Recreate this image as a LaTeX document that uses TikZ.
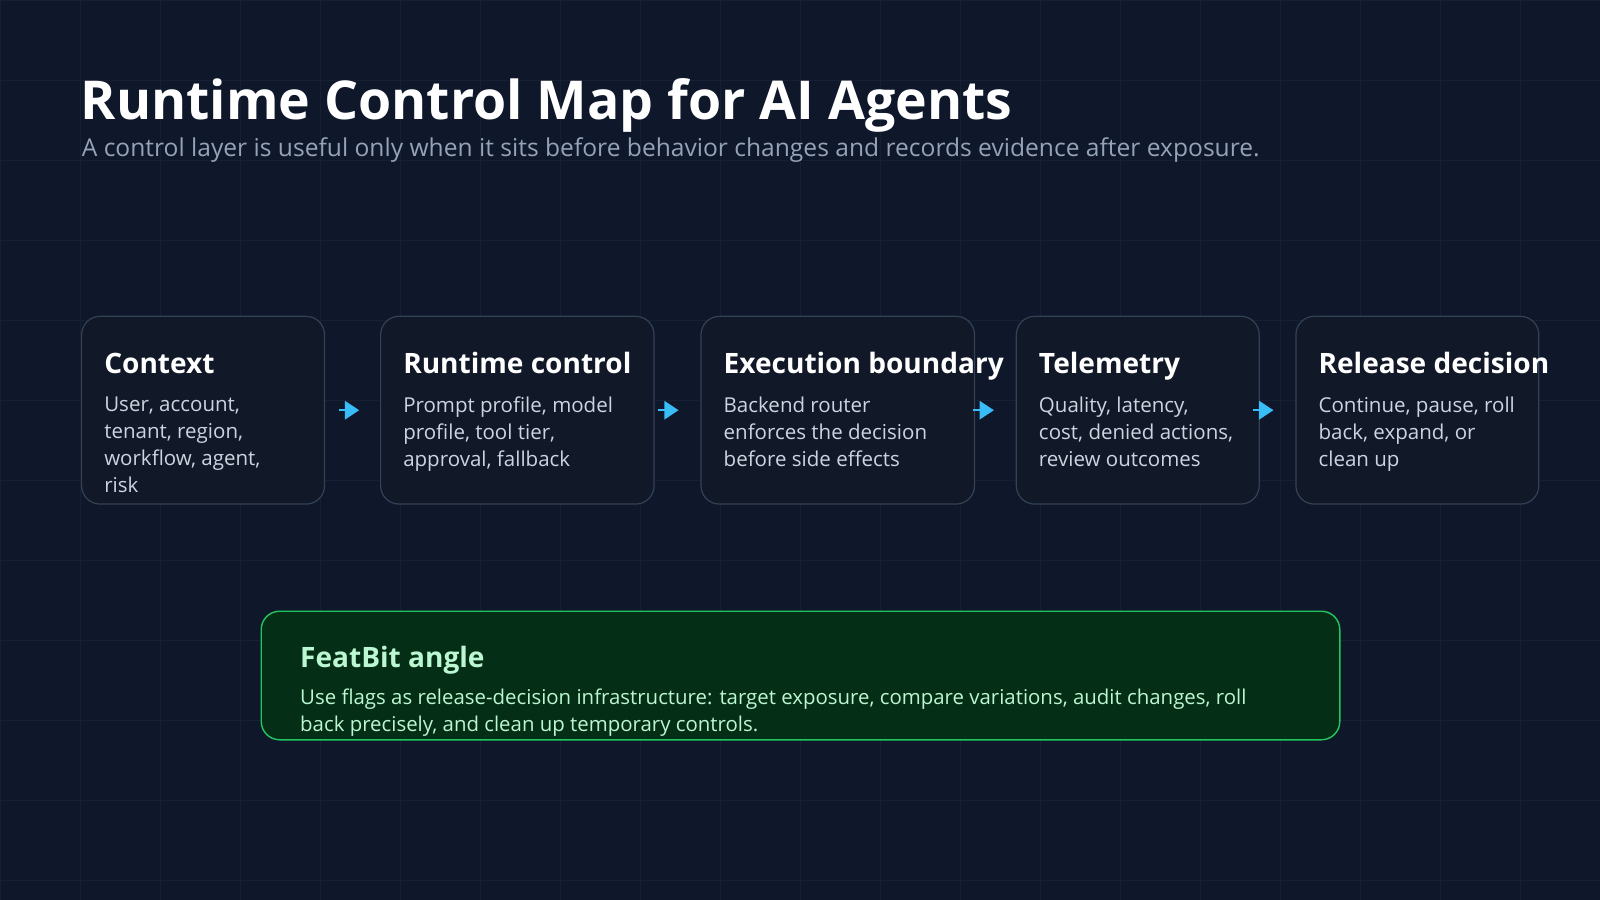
\documentclass[tikz,border=0pt]{standalone}
\usepackage{fontspec}
\setmainfont{Open Sans}
\usetikzlibrary{arrows.meta}
\definecolor{bg}{HTML}{0F172A}
\definecolor{gridc}{HTML}{172033}
\definecolor{boxf}{HTML}{111827}
\definecolor{boxd}{HTML}{334155}
\definecolor{sub}{HTML}{94A3B8}
\definecolor{body}{HTML}{CBD5E1}
\definecolor{arr}{HTML}{38BDF8}
\definecolor{gf}{HTML}{052E16}
\definecolor{gd}{HTML}{22C55E}
\definecolor{gt}{HTML}{BBF7D0}
\begin{document}
\begin{tikzpicture}[x=1pt,y=-1pt,
 card/.style={draw=boxd,line width=1.2pt,fill=boxf,rounded corners=18pt},
 ctitle/.style={anchor=base west,text=white,font=\fontsize{27.5}{30}\selectfont\bfseries,inner sep=0},
 cbody/.style={anchor=north west,text=body,font=\fontsize{20.1}{26.5}\selectfont,align=left,inner sep=0},
 conn/.style={arr,line width=2pt,-{Triangle[length=14pt,width=18pt]}}]
\fill[bg] (0,0) rectangle (1568,882);
\useasboundingbox (0,0) rectangle (1568,882);
\foreach \x in {0,78.4,...,1568} \draw[gridc,line width=0.8pt] (\x,0) -- (\x,882);
\foreach \y in {0,78.4,...,882} \draw[gridc,line width=0.8pt] (0,\y) -- (1568,\y);
\node[anchor=base west,text=white,font=\fontsize{52.5}{56}\selectfont\bfseries,inner sep=0] (title) at (79,117) {Runtime Control Map for AI Agents};
\node[anchor=base west,text=sub,font=\fontsize{24.1}{28}\selectfont,inner sep=0] (subt) at (80,153) {A control layer is useful only when it sits before behavior changes and records evidence after exposure.};
\foreach \n/\a/\b/\t/\bd in {
 c1/80/318/Context/{User, account,\\tenant, region,\\workflow, agent,\\risk},
 c2/373/641/Runtime control/{Prompt profile, model\\profile, tool tier,\\approval, fallback},
 c3/687/955/Execution boundary/{Backend router\\enforces the decision\\before side effects},
 c4/996/1234/Telemetry/{Quality, latency,\\cost, denied actions,\\review outcomes},
 c5/1270/1508/Release decision/{Continue, pause, roll\\back, expand, or\\clean up}} {
 \draw[card] (\a,310) rectangle (\b,494);
 \node[ctitle] (\n t) at (\a+22,366) {\t};
 \node[cbody] (\n b) at (\a+22,389) {\bd};
}
\foreach \k/\tip in {1/352,2/665,3/974,4/1248}{
 \coordinate (s\k) at (\tip-20,402); \coordinate (e\k) at (\tip,402);
 \draw[conn] (s\k) -- (e\k);
}
\draw[draw=gd,line width=1.4pt,fill=gf,rounded corners=18pt] (256,599) rectangle (1313,725);
\node[anchor=base west,text=gt,font=\fontsize{27.5}{30}\selectfont\bfseries,inner sep=0] (ft) at (294,654) {FeatBit angle};
\node[anchor=north west,text=gt,font=\fontsize{20}{26.5}\selectfont,align=left,inner sep=0] (fb) at (294,675) {Use flags as release-decision infrastructure: target exposure, compare variations, audit changes, roll\\back precisely, and clean up temporary controls.};
\end{tikzpicture}
\end{document}
